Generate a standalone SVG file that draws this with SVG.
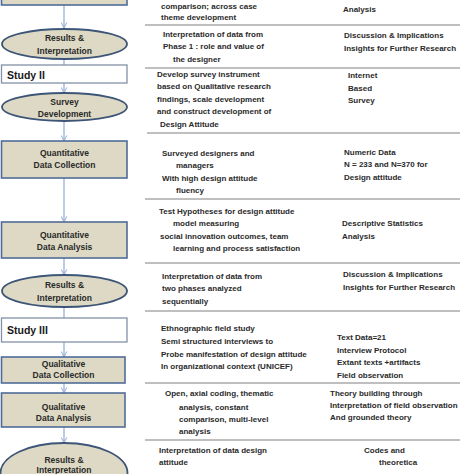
<svg xmlns="http://www.w3.org/2000/svg" width="474" height="474" viewBox="0 0 474 474">
<defs>
<marker id="ah" viewBox="0 0 10 10" refX="9" refY="5" markerWidth="7" markerHeight="7" orient="auto" markerUnits="userSpaceOnUse">
<path d="M1,1 L9,5 L1,9" fill="none" stroke="#8faad3" stroke-width="1.4"/>
</marker>
<style>
.box{fill:#ddd9c4;stroke:#4f6c98;stroke-width:1.6}
.ell{fill:#ddd9c4;stroke:#3d5577;stroke-width:1.8}
.study{fill:#ffffff;stroke:#8391a6;stroke-width:1.3}
.lbl{font-family:"Liberation Sans",Arial,sans-serif;font-weight:bold;font-size:8.5px;fill:#2a2a2a;text-anchor:middle}
.stl{font-family:"Liberation Sans",Arial,sans-serif;font-weight:bold;font-size:10.5px;fill:#1a1a1a}
.t{font-family:"Liberation Sans",Arial,sans-serif;font-weight:bold;font-size:8px;fill:#2a2a2a}
.sep{stroke:#aaaaaa;stroke-width:1.5}
.con{stroke:#8faad3;stroke-width:1.2;fill:none}
</style>
</defs>
<rect width="474" height="474" fill="#ffffff"/>

<g id="connectors">
<line class="con" x1="64" y1="5" x2="64" y2="28" marker-end="url(#ah)"/>
<line class="con" x1="64" y1="59" x2="64" y2="65"/>
<line class="con" x1="64" y1="83" x2="64" y2="93" marker-end="url(#ah)"/>
<line class="con" x1="64" y1="121" x2="64" y2="141" marker-end="url(#ah)"/>
<line class="con" x1="64" y1="178" x2="64" y2="222" marker-end="url(#ah)"/>
<line class="con" x1="64" y1="258" x2="64" y2="275" marker-end="url(#ah)"/>
<line class="con" x1="64" y1="307" x2="64" y2="318"/>
<line class="con" x1="64" y1="342" x2="64" y2="357" marker-end="url(#ah)"/>
<line class="con" x1="64" y1="383" x2="64" y2="393" marker-end="url(#ah)"/>
<line class="con" x1="64" y1="427" x2="64" y2="443" marker-end="url(#ah)"/>
</g>

<g id="separators">
<line class="sep" x1="145" y1="25" x2="460" y2="25"/>
<line class="sep" x1="145" y1="68" x2="460" y2="68"/>
<line class="sep" x1="147" y1="133" x2="460" y2="133"/>
<line class="sep" x1="145" y1="199" x2="460" y2="199"/>
<line class="sep" x1="145" y1="263" x2="460" y2="263"/>
<line class="sep" x1="145" y1="311" x2="460" y2="311"/>
<line class="sep" x1="145" y1="383" x2="460" y2="383"/>
<line class="sep" x1="145" y1="440" x2="460" y2="440"/>
</g>

<g id="top-box"><rect class="box" x="1.5" y="-10" width="125.5" height="15"/></g>

<g id="results1">
<ellipse class="ell" cx="64.5" cy="44" rx="62.5" ry="15"/>
<text class="lbl" x="64.5" y="41">Results &amp;</text>
<text class="lbl" x="64.5" y="54">Interpretation</text>
</g>

<g id="study2">
<rect class="study" x="1.5" y="65" width="125.5" height="18"/>
<text class="stl" x="7" y="78.5">Study II</text>
</g>

<g id="survey-dev">
<ellipse class="ell" cx="64.5" cy="107" rx="62.5" ry="14"/>
<text class="lbl" x="64.5" y="105">Survey</text>
<text class="lbl" x="64.5" y="117">Development</text>
</g>

<g id="quant-collection">
<rect class="box" x="1.5" y="141" width="125.5" height="37"/>
<text class="lbl" x="64.5" y="156">Quantitative</text>
<text class="lbl" x="64.5" y="167.5">Data Collection</text>
</g>

<g id="quant-analysis">
<rect class="box" x="1.5" y="222" width="125.5" height="36"/>
<text class="lbl" x="64.5" y="238">Quantitative</text>
<text class="lbl" x="64.5" y="250">Data Analysis</text>
</g>

<g id="results2">
<ellipse class="ell" cx="64.5" cy="291" rx="62.5" ry="16"/>
<text class="lbl" x="64.5" y="288">Results &amp;</text>
<text class="lbl" x="64.5" y="300.5">Interpretation</text>
</g>

<g id="study3">
<rect class="study" x="1.5" y="318" width="125.5" height="24"/>
<text class="stl" x="7" y="334">Study III</text>
</g>

<g id="qual-collection">
<rect class="box" x="1.5" y="357" width="123.5" height="26"/>
<text class="lbl" x="63.5" y="367">Qualitative</text>
<text class="lbl" x="63.5" y="378">Data Collection</text>
</g>

<g id="qual-analysis">
<rect class="box" x="1.5" y="393" width="123.5" height="34"/>
<text class="lbl" x="63.5" y="410">Qualitative</text>
<text class="lbl" x="63.5" y="420.5">Data Analysis</text>
</g>

<g id="results3">
<ellipse class="ell" cx="64" cy="473" rx="63.5" ry="30"/>
<text class="lbl" x="64" y="463">Results &amp;</text>
<text class="lbl" x="64" y="473">Interpretation</text>
</g>

<g id="descriptions">
<text class="t" x="161" y="9">comparison; across case</text>
<text class="t" x="161" y="20">theme development</text>
<text class="t" x="343" y="12">Analysis</text>

<text class="t" x="163" y="37">Interpretation of data from</text>
<text class="t" x="163" y="49">Phase 1 : role and value of</text>
<text class="t" x="173" y="62">the designer</text>
<text class="t" x="344" y="38">Discussion &amp; Implications</text>
<text class="t" x="344" y="51">Insights for Further Research</text>

<text class="t" x="157" y="77">Develop survey instrument</text>
<text class="t" x="157" y="89">based on Qualitative research</text>
<text class="t" x="157" y="102">findings, scale development</text>
<text class="t" x="157" y="114">and construct development of</text>
<text class="t" x="160" y="127">Design Attitude</text>
<text class="t" x="348" y="78">Internet</text>
<text class="t" x="348" y="91">Based</text>
<text class="t" x="348" y="103">Survey</text>

<text class="t" x="162" y="156">Surveyed designers and</text>
<text class="t" x="176" y="168">managers</text>
<text class="t" x="162" y="181">With high design attitude</text>
<text class="t" x="176" y="193">fluency</text>
<text class="t" x="344" y="155">Numeric Data</text>
<text class="t" x="344" y="167">N = 233 and N=370 for</text>
<text class="t" x="344" y="180">Design attitude</text>

<text class="t" x="159" y="214">Test Hypotheses for design attitude</text>
<text class="t" x="173" y="226">model measuring</text>
<text class="t" x="160" y="239">social innovation outcomes, team</text>
<text class="t" x="173" y="251">learning and process satisfaction</text>
<text class="t" x="342" y="226">Descriptive Statistics</text>
<text class="t" x="342" y="239">Analysis</text>

<text class="t" x="162" y="279">Interpretation of data from</text>
<text class="t" x="162" y="291">two phases analyzed</text>
<text class="t" x="162" y="304">sequentially</text>
<text class="t" x="343" y="277">Discussion &amp; Implications</text>
<text class="t" x="343" y="290">Insights for Further Research</text>

<text class="t" x="161" y="331">Ethnographic field study</text>
<text class="t" x="161" y="344">Semi structured interviews to</text>
<text class="t" x="161" y="356.5">Probe  manifestation of design attitude</text>
<text class="t" x="161" y="369">In organizational context (UNICEF)</text>
<text class="t" x="337" y="340">Text Data=21</text>
<text class="t" x="337" y="353">Interview Protocol</text>
<text class="t" x="337" y="364.5">Extant texts +artifacts</text>
<text class="t" x="337" y="377.5">Field observation</text>

<text class="t" x="165" y="396">Open, axial coding, thematic</text>
<text class="t" x="179" y="409.5">analysis, constant</text>
<text class="t" x="179" y="422">comparison, multi-level</text>
<text class="t" x="179" y="434">analysis</text>
<text class="t" x="330" y="396">Theory building through</text>
<text class="t" x="330" y="408">Interpretation of field observation</text>
<text class="t" x="330" y="420">And grounded theory</text>

<text class="t" x="159" y="453">Interpretation of data design</text>
<text class="t" x="159" y="465">attitude</text>
<text class="t" x="364" y="453">Codes and</text>
<text class="t" x="379" y="465">theoretica</text>
</g>
</svg>
